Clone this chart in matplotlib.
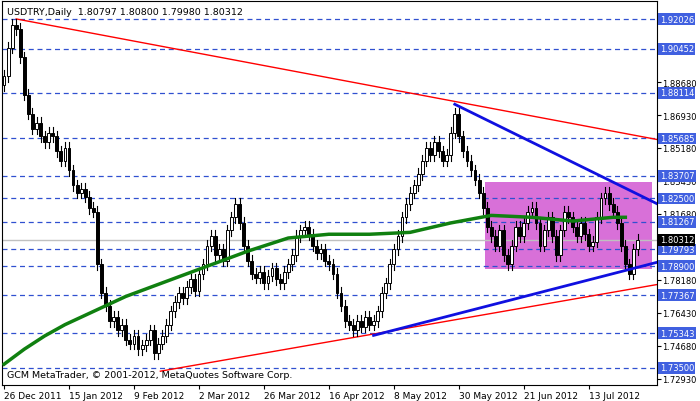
import matplotlib
matplotlib.use("Agg")
import matplotlib.pyplot as plt
from matplotlib.patches import Rectangle

closes = [1.890,1.905,1.917,1.915,1.900,1.880,1.870,1.862,1.865,1.858,
1.855,1.860,1.858,1.850,1.845,1.852,1.840,1.832,1.828,1.830,
1.826,1.820,1.818,1.790,1.775,1.768,1.760,1.762,1.755,1.758,
1.750,1.748,1.752,1.745,1.747,1.750,1.755,1.743,1.748,1.752,
1.758,1.765,1.770,1.775,1.772,1.778,1.782,1.776,1.785,1.790,
1.800,1.805,1.795,1.798,1.792,1.808,1.815,1.822,1.812,1.800,
1.792,1.785,1.783,1.786,1.780,1.784,1.788,1.782,1.780,1.786,
1.790,1.795,1.805,1.808,1.810,1.806,1.800,1.796,1.798,1.792,
1.790,1.785,1.775,1.768,1.760,1.758,1.755,1.760,1.757,1.762,
1.758,1.760,1.765,1.775,1.780,1.790,1.798,1.805,1.815,1.822,
1.828,1.832,1.838,1.845,1.852,1.848,1.855,1.850,1.845,1.848,
1.860,1.870,1.858,1.850,1.845,1.840,1.835,1.828,1.820,1.810,
1.805,1.800,1.808,1.795,1.790,1.800,1.810,1.805,1.812,1.818,
1.820,1.812,1.800,1.808,1.815,1.805,1.795,1.808,1.818,1.815,
1.810,1.805,1.812,1.806,1.800,1.802,1.815,1.825,1.828,1.822,
1.818,1.812,1.800,1.790,1.785,1.798,1.80312]
first_open = 1.885
wick = 0.003

ma_bars = [0,5,10,15,20,25,30,40,50,60,70,80,90,100,110,120,130,140,150,153]
ma_vals = [1.737,1.745,1.752,1.758,1.763,1.768,1.773,1.781,1.789,1.797,1.804,1.806,1.806,1.807,1.812,1.816,1.815,1.813,1.815,1.815]

date_bars = [0,16,32,48,64,80,96,112,128,144]
date_labels = ["26 Dec 2011","15 Jan 2012","9 Feb 2012","2 Mar 2012","26 Mar 2012",
               "16 Apr 2012","8 May 2012","30 May 2012","21 Jun 2012","13 Jul 2012"]

grey_ticks = [1.88680,1.86930,1.85180,1.83430,1.81680,1.78180,1.76430,1.74680,1.72930]
level_lines = [1.92026,1.90452,1.88114,1.85685,1.83707,1.82500,1.81267,1.79793,1.78900,1.77367,1.75343,1.73500]
current = 1.80312

fig = plt.figure(figsize=(7,4.02), dpi=100)
ax = fig.add_axes([2/700, 16/402, 655/700, 384/402])
ax.set_xlim(-0.5, 160.8)
ax.set_ylim(1.72597, 1.92982)

for lv in level_lines:
    ax.axhline(lv, color="#3050d0", ls=(0,(4,3)), lw=0.9, zorder=1)
ax.axhline(current, color="#c0c0c0", lw=1, zorder=1)

ax.add_patch(Rectangle((118.5,1.7875),41.0,0.0462,facecolor="#d870d8",edgecolor="none",zorder=0.5))

ax.plot([3,160.8],[1.9203,1.8563],color="red",lw=1,zorder=2)
ax.plot([38.5,160.8],[1.7333,1.7793],color="red",lw=1,zorder=2)
ax.plot([111,160.8],[1.875,1.8222],color="#1010e0",lw=2,zorder=4)
ax.plot([91,160.8],[1.7523,1.7911],color="#1010e0",lw=2,zorder=4)

prev = first_open
for i,c in enumerate(closes):
    o = prev
    hi = max(o,c)+wick; lo = min(o,c)-wick
    ax.plot([i,i],[lo,hi],color="black",lw=0.8,zorder=3)
    bull = c>=o
    ax.add_patch(Rectangle((i-0.35,min(o,c)),0.7,max(abs(c-o),0.0004),
        facecolor="white" if bull else "black",edgecolor="black",lw=0.7,zorder=3))
    prev = c

ax.plot(ma_bars, ma_vals, color="#108010", lw=2.5, zorder=3.5)

fs = 6.0
ax.set_xticks(date_bars)
ax.set_xticklabels(date_labels, fontsize=6.5, ha="left")
ax.tick_params(axis="x", length=3, pad=1)
ax.yaxis.tick_right()
ax.set_yticks(grey_ticks)
ax.set_yticklabels([f"{v:.5f}" for v in grey_ticks], fontsize=fs)
ax.tick_params(axis="y", length=3, pad=1)
for lv in level_lines:
    ax.text(1.004, lv, f"{lv:.5f}", transform=ax.get_yaxis_transform(), fontsize=fs, color="white",
            va="center", ha="left", bbox=dict(facecolor="#4060e0", edgecolor="none", pad=1.0), zorder=5, clip_on=False)
ax.text(1.004, current, f"{current:.5f}", transform=ax.get_yaxis_transform(), fontsize=fs, color="white",
        va="center", ha="left", bbox=dict(facecolor="black", edgecolor="none", pad=1.0), zorder=5, clip_on=False)

ax.text(0.008, 0.985, "USDTRY,Daily  1.80797 1.80800 1.79980 1.80312", transform=ax.transAxes,
        fontsize=6.8, va="top", ha="left")
ax.text(0.008, 0.015, "GCM MetaTrader, © 2001-2012, MetaQuotes Software Corp.", transform=ax.transAxes,
        fontsize=6.8, va="bottom", ha="left")
for s in ax.spines.values():
    s.set_linewidth(0.8)
fig.savefig("out.png", dpi=100)
